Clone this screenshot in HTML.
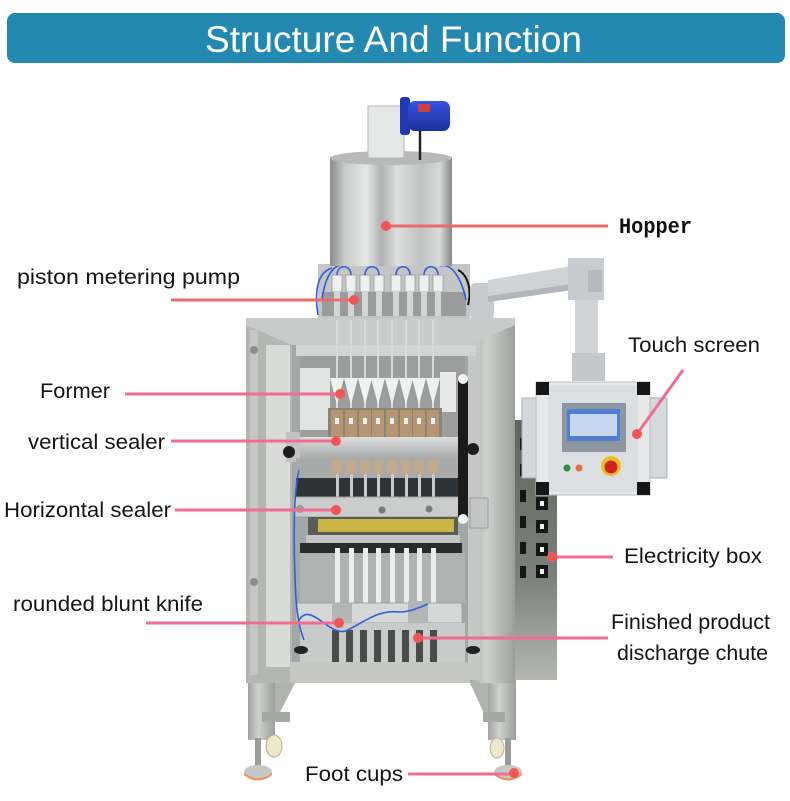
<!DOCTYPE html>
<html><head><meta charset="utf-8"><style>
html,body{margin:0;padding:0;background:#fff;}
svg{display:block;}
.lb{font-family:"Liberation Sans",sans-serif;font-size:21px;fill:#151515;}
</style></head><body>
<svg width="790" height="801" viewBox="0 0 790 801" xmlns="http://www.w3.org/2000/svg">
<defs>
<linearGradient id="drum" x1="0" x2="1" y1="0" y2="0">
<stop offset="0" stop-color="#8a8c8c"/><stop offset="0.12" stop-color="#c8caca"/><stop offset="0.3" stop-color="#e6e8e8"/><stop offset="0.42" stop-color="#b0b2b2"/><stop offset="0.55" stop-color="#dcdede"/><stop offset="0.75" stop-color="#c0c2c2"/><stop offset="0.9" stop-color="#d8dada"/><stop offset="1" stop-color="#868888"/>
</linearGradient>
<linearGradient id="steel" x1="0" x2="1" y1="0" y2="0">
<stop offset="0" stop-color="#a2a4a2"/><stop offset="0.4" stop-color="#cfd1cf"/><stop offset="1" stop-color="#9c9e9c"/>
</linearGradient>
<linearGradient id="steelv" x1="0" x2="0" y1="0" y2="1">
<stop offset="0" stop-color="#dcdedd"/><stop offset="1" stop-color="#a9abaa"/>
</linearGradient>
<linearGradient id="ebox" x1="0" x2="0" y1="0" y2="1">
<stop offset="0" stop-color="#5f655d"/><stop offset="0.6" stop-color="#7c807a"/><stop offset="1" stop-color="#b4b6b2"/>
</linearGradient>
<linearGradient id="motor" x1="0" x2="0" y1="0" y2="1">
<stop offset="0" stop-color="#3654e0"/><stop offset="1" stop-color="#1c2f9c"/>
</linearGradient>
</defs>

<!-- Header -->
<rect x="7" y="13" width="778" height="50" rx="8" fill="#2489b1"/>
<text x="205" y="52" font-family="Liberation Sans, sans-serif" font-size="37" fill="#fff" textLength="377" lengthAdjust="spacingAndGlyphs">Structure And Function</text>

<!-- Legs and feet -->
<rect x="248" y="678" width="27" height="62" fill="url(#steel)"/>
<polygon points="275,683 295,683 275,722" fill="#b0b2b0"/>
<rect x="262" y="712" width="28" height="10" fill="#a6a8a6"/>
<ellipse cx="274" cy="746" rx="8" ry="11" fill="#efe7c9" stroke="#b8b09a"/>
<rect x="255" y="738" width="6" height="28" fill="#9a9c9a"/>
<ellipse cx="258" cy="772" rx="14" ry="7" fill="#c6c8c6"/>
<path d="M244,773 Q258,784 272,773 L272,775 Q258,786 244,775Z" fill="#f08a50"/>

<rect x="488" y="678" width="28" height="62" fill="url(#steel)"/>
<polygon points="488,683 470,683 488,722" fill="#b0b2b0"/>
<rect x="483" y="712" width="22" height="10" fill="#a6a8a6"/>
<ellipse cx="497" cy="748" rx="7" ry="10" fill="#efe7c9" stroke="#b8b09a"/>
<rect x="505" y="738" width="6" height="28" fill="#9a9c9a"/>
<ellipse cx="508" cy="772" rx="14" ry="7" fill="#c6c8c6"/>
<path d="M494,773 Q508,784 522,773 L522,775 Q508,786 494,775Z" fill="#f08a50"/>

<!-- Electricity box -->
<rect x="514" y="420" width="43" height="260" fill="url(#ebox)"/>
<g fill="#161616">
<rect x="520" y="438" width="6" height="12"/><rect x="520" y="464" width="6" height="12"/><rect x="520" y="490" width="6" height="12"/>
<rect x="520" y="516" width="6" height="12"/><rect x="520" y="542" width="6" height="12"/><rect x="520" y="566" width="6" height="12"/>
<rect x="536" y="497" width="12" height="13"/><rect x="536" y="520" width="12" height="13"/><rect x="536" y="543" width="12" height="13"/><rect x="536" y="565" width="12" height="13"/>
</g>
<g fill="#f2f2f2">
<rect x="540" y="501" width="4" height="5"/><rect x="540" y="524" width="4" height="5"/><rect x="540" y="547" width="4" height="5"/><rect x="540" y="569" width="4" height="5"/>
</g>

<!-- Cabinet -->
<rect x="290" y="318" width="180" height="365" fill="#a4a7a7"/>
<rect x="468" y="318" width="47" height="365" fill="url(#steel)"/>
<rect x="468" y="330" width="12" height="350" fill="#c6c8c6"/>
<rect x="246" y="318" width="46" height="365" fill="#b4b6b4"/>
<rect x="266" y="345" width="24" height="322" fill="#d9dbd9"/>
<rect x="250" y="330" width="8" height="345" fill="#c6c8c6"/>
<circle cx="254" cy="350" r="4" fill="#8c8e8c"/>
<circle cx="254" cy="582" r="4" fill="#8c8e8c"/>
<path d="M246,318 L515,318 L515,325 L470,345 L292,345 L246,325Z" fill="#c9cbca"/>
<rect x="296" y="345" width="180" height="11" fill="#d2d4d3"/>
<!-- inner upper area -->
<rect x="300" y="356" width="165" height="82" fill="#9b9e9c"/>
<rect x="300" y="368" width="30" height="62" fill="#e2e4e3"/>
<rect x="440" y="372" width="16" height="40" fill="#e6e8e7"/>
<g fill="#d8dad9">
<rect x="336" y="320" width="2" height="90"/><rect x="350" y="320" width="2" height="90"/><rect x="364" y="320" width="2" height="90"/><rect x="377" y="320" width="2" height="90"/>
<rect x="391" y="320" width="2" height="90"/><rect x="405" y="320" width="2" height="90"/><rect x="418" y="320" width="2" height="90"/><rect x="432" y="320" width="2" height="90"/>
</g>
<g fill="#f0f2f2">
<polygon points="330,378 344,378 337,405"/><polygon points="344,378 358,378 351,405"/><polygon points="358,378 372,378 365,405"/><polygon points="371,378 385,378 378,405"/>
<polygon points="385,378 399,378 392,405"/><polygon points="399,378 413,378 406,405"/><polygon points="412,378 426,378 419,405"/><polygon points="426,378 440,378 433,405"/>
</g>
<!-- vertical sealers -->
<rect x="328" y="408" width="114" height="30" fill="#8e8270"/>
<g fill="#b59672">
<rect x="331" y="410" width="12" height="27"/><rect x="345" y="410" width="12" height="27"/><rect x="359" y="410" width="12" height="27"/><rect x="372" y="410" width="12" height="27"/>
<rect x="386" y="410" width="12" height="27"/><rect x="400" y="410" width="12" height="27"/><rect x="413" y="410" width="12" height="27"/><rect x="427" y="410" width="12" height="27"/>
</g>
<g fill="#f4f4f4">
<rect x="335" y="418" width="4" height="6"/><rect x="349" y="418" width="4" height="6"/><rect x="363" y="418" width="4" height="6"/><rect x="376" y="418" width="4" height="6"/>
<rect x="390" y="418" width="4" height="6"/><rect x="404" y="418" width="4" height="6"/><rect x="417" y="418" width="4" height="6"/><rect x="431" y="418" width="4" height="6"/>
</g>
<rect x="292" y="437" width="168" height="21" fill="url(#steelv)"/>
<rect x="286" y="432" width="14" height="30" fill="#c2c4c3"/>
<circle cx="289" cy="452" r="6" fill="#1e1e1e"/>
<circle cx="473" cy="449" r="6" fill="#1e1e1e"/>
<!-- lower jaws -->
<rect x="296" y="458" width="166" height="20" fill="#a8aaa9"/>
<g fill="#bfa98a">
<rect x="332" y="460" width="10" height="14"/><rect x="346" y="460" width="10" height="14"/><rect x="360" y="460" width="10" height="14"/><rect x="373" y="460" width="10" height="14"/>
<rect x="387" y="460" width="10" height="14"/><rect x="401" y="460" width="10" height="14"/><rect x="414" y="460" width="10" height="14"/><rect x="428" y="460" width="10" height="14"/>
</g>
<rect x="296" y="478" width="166" height="19" fill="#2e3338"/>
<g fill="#c8cac9">
<rect x="336" y="474" width="3" height="24"/><rect x="350" y="474" width="3" height="24"/><rect x="364" y="474" width="3" height="24"/><rect x="377" y="474" width="3" height="24"/>
<rect x="391" y="474" width="3" height="24"/><rect x="405" y="474" width="3" height="24"/><rect x="418" y="474" width="3" height="24"/><rect x="432" y="474" width="3" height="24"/>
</g>
<!-- horizontal sealer -->
<rect x="293" y="497" width="170" height="20" fill="#cbcdcc" stroke="#9c9e9d" stroke-width="1"/>
<circle cx="300" cy="509" r="4" fill="#9a9c9b"/><circle cx="382" cy="510" r="3.5" fill="#7a7c7b"/><circle cx="429" cy="509" r="3.5" fill="#7a7c7b"/>
<rect x="308" y="517" width="150" height="20" fill="#5a5c58"/>
<rect x="318" y="519" width="136" height="13" fill="#cbb546"/>
<rect x="306" y="535" width="154" height="8" fill="#c4c6c5"/>
<rect x="300" y="543" width="162" height="10" fill="#2a2c2c"/>
<!-- lower tubes -->
<rect x="300" y="553" width="165" height="50" fill="#b0b2b1"/>
<g fill="#eceeed">
<rect x="335" y="548" width="5" height="56"/><rect x="349" y="548" width="5" height="56"/><rect x="363" y="548" width="5" height="56"/><rect x="376" y="548" width="5" height="56"/>
<rect x="390" y="548" width="5" height="56"/><rect x="404" y="548" width="5" height="56"/><rect x="417" y="548" width="5" height="56"/><rect x="431" y="548" width="5" height="56"/>
</g>
<!-- knife bar -->
<rect x="296" y="603" width="166" height="20" fill="#d6d8d7" stroke="#a4a6a5"/>
<rect x="332" y="603" width="20" height="22" fill="#b4b6b5"/>
<rect x="408" y="601" width="20" height="22" fill="#b4b6b5"/>
<!-- discharge slots -->
<rect x="300" y="623" width="165" height="40" fill="#c9cbca"/>
<g fill="#4a4c4b">
<rect x="332" y="630" width="7" height="32"/><rect x="346" y="630" width="7" height="32"/><rect x="360" y="630" width="7" height="32"/><rect x="374" y="630" width="7" height="32"/>
<rect x="388" y="630" width="7" height="32"/><rect x="402" y="630" width="7" height="32"/><rect x="416" y="630" width="7" height="32"/><rect x="430" y="630" width="7" height="32"/>
</g>
<ellipse cx="301" cy="650" rx="7" ry="4" fill="#222"/>
<ellipse cx="473" cy="650" rx="7" ry="4" fill="#222"/>
<rect x="290" y="662" width="180" height="21" fill="#c6c8c4"/>
<!-- black rod & box -->
<rect x="458" y="375" width="10" height="148" rx="5" fill="#1b1b1b"/>
<circle cx="463" cy="379" r="5" fill="#f4f4f4"/>
<circle cx="463" cy="519" r="5" fill="#f4f4f4"/>
<rect x="470" y="498" width="18" height="30" fill="#c4c6c6" stroke="#9a9c9c"/>
<!-- blue hoses -->
<g fill="none" stroke="#2f5fdc" stroke-width="1.6">
<path d="M299,470 C292,500 294,560 296,600 C298,620 300,630 304,640"/>
<path d="M298,622 C310,598 330,640 348,630 C370,618 380,610 400,612 C410,612 418,608 428,604"/>
</g>

<!-- Pumps -->
<rect x="318" y="264" width="152" height="54" fill="#c4c6c6"/>
<rect x="322" y="292" width="144" height="24" fill="#9a9c9c"/>
<g fill="#eef0f0" stroke="#9a9c9c" stroke-width="0.8">
<rect x="332" y="275" width="10" height="17"/><rect x="346" y="275" width="10" height="17"/><rect x="360" y="275" width="10" height="17"/><rect x="374" y="275" width="10" height="17"/>
<rect x="391" y="275" width="10" height="17"/><rect x="405" y="275" width="10" height="17"/><rect x="419" y="275" width="10" height="17"/><rect x="433" y="275" width="10" height="17"/>
</g>
<g fill="#d4d6d6">
<rect x="334" y="292" width="6" height="24"/><rect x="348" y="292" width="6" height="24"/><rect x="362" y="292" width="6" height="24"/><rect x="376" y="292" width="6" height="24"/>
<rect x="393" y="292" width="6" height="24"/><rect x="407" y="292" width="6" height="24"/><rect x="421" y="292" width="6" height="24"/><rect x="435" y="292" width="6" height="24"/>
</g>
<g fill="none" stroke="#2f5fdc" stroke-width="1.6">
<path d="M337,275 C337,264 351,264 351,275"/><path d="M365,275 C365,264 379,264 379,275"/>
<path d="M396,275 C396,264 410,264 410,275"/><path d="M424,275 C424,264 438,264 438,275"/>
<path d="M332,268 C318,272 314,290 318,315"/><path d="M345,266 C335,262 325,275 322,300"/>
<path d="M440,266 C452,262 462,280 466,300"/>
</g>
<path d="M458,270 C468,275 472,290 468,305" fill="none" stroke="#111" stroke-width="2"/>

<!-- Hopper -->
<rect x="330" y="158" width="122" height="108" fill="url(#drum)"/>
<ellipse cx="391" cy="158" rx="61" ry="7" fill="#b8baba"/>
<rect x="368" y="106" width="36" height="52" fill="#e6e8e8" stroke="#b4b6b6"/>
<rect x="400" y="97" width="10" height="38" rx="3" fill="#2038b0"/>
<rect x="408" y="101" width="42" height="30" rx="7" fill="url(#motor)"/>
<rect x="418" y="104" width="12" height="8" fill="#c84040"/>
<path d="M420,131 L420,160" stroke="#222" stroke-width="2.5"/>

<!-- Arm -->
<rect x="470" y="283" width="24" height="37" rx="6" fill="#c6cacd"/>
<polygon points="488,280 572,266 572,290 488,302" fill="#d0d3d6"/>
<polygon points="488,296 572,284 572,290 488,302" fill="#b2b6ba"/>
<rect x="568" y="258" width="36" height="42" fill="#c8ccd0"/>
<rect x="588" y="270" width="14" height="22" fill="#b6babe"/>
<rect x="575" y="300" width="23" height="54" fill="#d0d4d7"/>
<rect x="572" y="353" width="33" height="28" fill="#c4c8cb"/>

<!-- Control box -->
<rect x="522" y="398" width="14" height="80" fill="#d6d9dc" stroke="#a8acb0"/>
<rect x="650" y="398" width="17" height="80" fill="#d6d9dc" stroke="#a8acb0"/>
<rect x="536" y="382" width="114" height="113" fill="#e6e8ea" stroke="#b8bcc0"/>
<rect x="548" y="385" width="90" height="107" fill="#dcdfe2"/>
<g fill="#161616">
<rect x="536" y="382" width="13" height="13"/><rect x="637" y="382" width="13" height="13"/>
<rect x="536" y="482" width="13" height="13"/><rect x="637" y="482" width="13" height="13"/>
</g>
<rect x="562" y="403" width="64" height="49" fill="#8e96a0"/>
<rect x="567" y="409" width="53" height="32" fill="#4e7fd2"/>
<rect x="570" y="414" width="47" height="22" fill="#c8d6ee"/>
<circle cx="567" cy="468" r="3.5" fill="#2e8a3e"/>
<circle cx="579" cy="468" r="3.5" fill="#e07040"/>
<circle cx="611" cy="466" r="10" fill="#e8c020"/>
<circle cx="611" cy="467" r="6.5" fill="#d42020"/>

<!-- Connectors -->
<g stroke-width="3" fill="none">
<line x1="388" y1="226" x2="608" y2="226" stroke="#ec6a6a"/>
<line x1="171" y1="300" x2="354" y2="300" stroke="#ec6a72"/>
<line x1="125" y1="394" x2="340" y2="394" stroke="#ee6e92"/>
<line x1="171" y1="441" x2="336" y2="441" stroke="#ee6e92"/>
<line x1="175" y1="510" x2="336" y2="510" stroke="#ee6e92"/>
<line x1="683" y1="370" x2="637" y2="434" stroke="#ee6e92"/>
<line x1="552" y1="557" x2="613" y2="557" stroke="#ee6e92"/>
<line x1="146" y1="623" x2="338" y2="623" stroke="#ee6e92"/>
<line x1="418" y1="638" x2="608" y2="638" stroke="#ee6e92"/>
<line x1="408" y1="774" x2="514" y2="774" stroke="#ee6e92"/>
</g>
<g fill="#f05656">
<circle cx="386" cy="226" r="5"/><circle cx="354" cy="300" r="5"/><circle cx="340" cy="394" r="5"/>
<circle cx="336" cy="441" r="5"/><circle cx="336" cy="510" r="5"/><circle cx="637" cy="434" r="5"/>
<circle cx="552" cy="557" r="5"/><circle cx="339" cy="623" r="5"/><circle cx="418" cy="638" r="5"/>
<circle cx="514" cy="773" r="5"/>
</g>

<!-- Labels -->
<text x="619" y="233" font-family="Liberation Mono, monospace" font-weight="bold" font-size="22" fill="#111" textLength="73" lengthAdjust="spacingAndGlyphs">Hopper</text>
<text class="lb" x="17" y="284" textLength="223" lengthAdjust="spacingAndGlyphs">piston metering pump</text>
<text class="lb" x="40" y="398" textLength="70" lengthAdjust="spacingAndGlyphs">Former</text>
<text class="lb" x="28" y="449" textLength="137" lengthAdjust="spacingAndGlyphs">vertical sealer</text>
<text class="lb" x="4" y="517" textLength="167" lengthAdjust="spacingAndGlyphs">Horizontal sealer</text>
<text class="lb" x="628" y="352" textLength="132" lengthAdjust="spacingAndGlyphs">Touch screen</text>
<text class="lb" x="624" y="563" textLength="138" lengthAdjust="spacingAndGlyphs">Electricity box</text>
<text class="lb" x="13" y="611" textLength="190" lengthAdjust="spacingAndGlyphs">rounded blunt knife</text>
<text class="lb" x="611" y="629" textLength="159" lengthAdjust="spacingAndGlyphs">Finished product</text>
<text class="lb" x="617" y="660" textLength="151" lengthAdjust="spacingAndGlyphs">discharge chute</text>
<text class="lb" x="305" y="781" textLength="98" lengthAdjust="spacingAndGlyphs">Foot cups</text>
</svg>
</body></html>
